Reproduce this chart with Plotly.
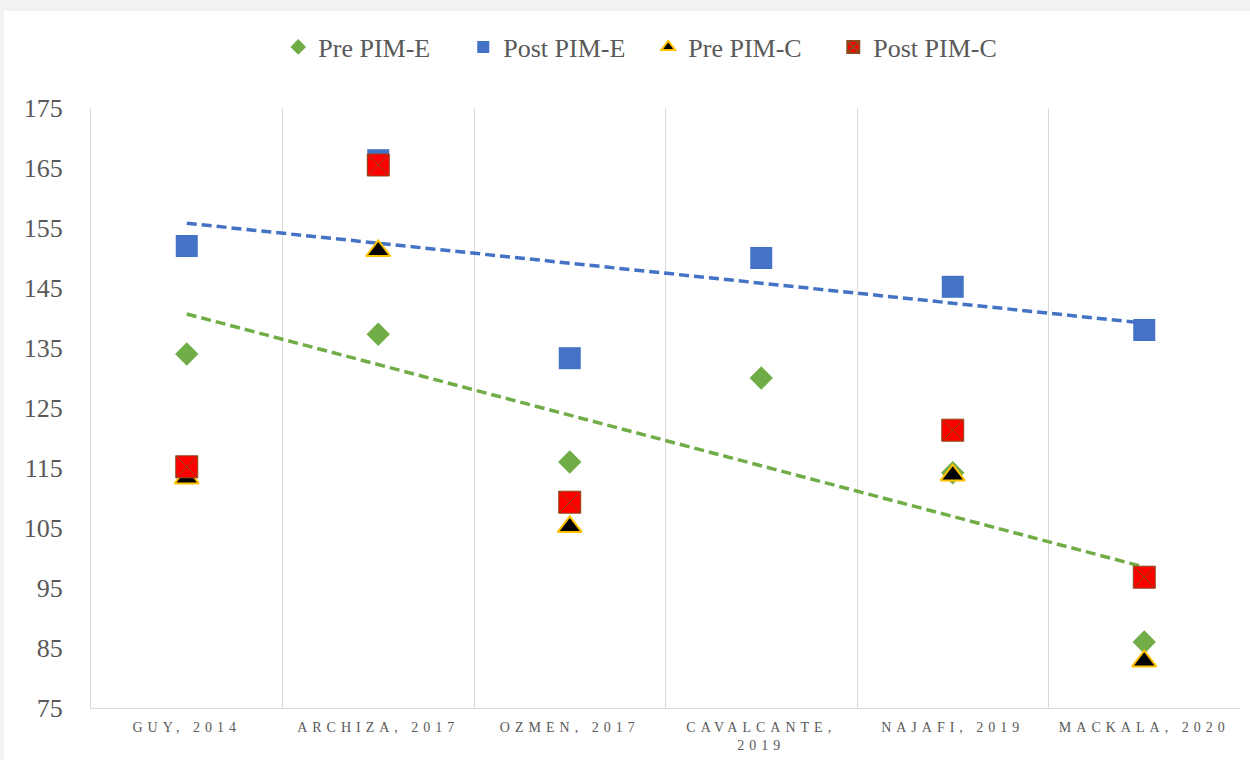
import numpy as np
import plotly.graph_objects as go

categories = ["GUY, 2014", "ARCHIZA, 2017", "OZMEN, 2017", "CAVALCANTE,<br>2019", "NAJAFI, 2019", "MACKALA, 2020"]
pre_pim_e = [134.0, 137.3, 116.0, 130.0, 114.2, 86.0]
post_pim_e = [152.0, 166.3, 133.3, 150.0, 145.2, 138.0]
pre_pim_c = [113.3, 151.2, 105.2, None, 113.8, 82.8]
post_pim_c = [115.2, 165.5, 109.3, None, 121.3, 96.8]

GREEN = "#70AD47"
BLUE = "#4472C4"
GOLD = "#FFC000"
RED = "#FF0000"
GREY_TXT = "#595959"
GRID = "#D9D9D9"
FRAME = "#F2F2F2"
FONT = "Liberation Serif, Times New Roman, serif"

W, H = 1250, 760
ML, MR, MT, MB = 91, 10, 108, 52
PW, PH = W - ML - MR, H - MT - MB

def px_x(p):
    return (p - ML) / PW

def px_y(p):
    return (H - MB - p) / PH

idx = np.arange(1, len(categories) + 1)

def trend(vals):
    k, b = np.polyfit(idx, np.array(vals, dtype=float), 1)
    return list(k * idx + b)

fig = go.Figure()

fig.add_trace(go.Scatter(x=categories, y=trend(post_pim_e), mode="lines",
                         line=dict(color=BLUE, width=3.5, dash="10px,5px"),
                         showlegend=False, hoverinfo="skip"))
fig.add_trace(go.Scatter(x=categories, y=trend(pre_pim_e), mode="lines",
                         line=dict(color=GREEN, width=3.5, dash="10px,5px"),
                         showlegend=False, hoverinfo="skip"))

fig.add_trace(go.Scatter(x=categories, y=pre_pim_e, mode="markers", name="Pre PIM-E",
                         marker=dict(symbol="diamond", size=18, color=GREEN,
                                     line=dict(width=0))))
fig.add_trace(go.Scatter(x=categories, y=post_pim_e, mode="markers", name="Post PIM-E",
                         marker=dict(symbol="square", size=22, color=BLUE,
                                     line=dict(width=0))))
fig.add_trace(go.Scatter(x=categories, y=pre_pim_c, mode="markers", name="Pre PIM-C",
                         marker=dict(symbol="triangle-up", size=21, color="black",
                                     line=dict(width=2, color=GOLD))))
fig.add_trace(go.Scatter(x=categories, y=post_pim_c, mode="markers", name="Post PIM-C",
                         marker=dict(symbol="square-x", size=22, color=RED,
                                     line=dict(width=1, color="#8B4A1E"))))

fig.update_layout(
    width=W, height=H,
    margin=dict(l=ML, r=MR, t=MT, b=MB, autoexpand=False),
    paper_bgcolor="white", plot_bgcolor="white",
    font=dict(family=FONT, color=GREY_TXT),
    legend=dict(orientation="h", x=0.485, xanchor="center", y=px_y(47), yanchor="middle",
                font=dict(family=FONT, size=26, color=GREY_TXT),
                itemsizing="constant", traceorder="normal",
                entrywidth=140, entrywidthmode="pixels"),
    showlegend=True,
    shapes=[
        dict(type="rect", xref="paper", yref="paper", layer="below",
             x0=px_x(0), x1=px_x(W), y0=px_y(11), y1=px_y(0),
             fillcolor=FRAME, line=dict(width=0)),
        dict(type="rect", xref="paper", yref="paper", layer="below",
             x0=px_x(0), x1=px_x(4), y0=px_y(H), y1=px_y(0),
             fillcolor=FRAME, line=dict(width=0)),
    ],
)
fig.update_xaxes(
    type="category", tickson="boundaries", showgrid=True, gridcolor=GRID, gridwidth=1,
    showline=True, linecolor=GRID, linewidth=1, ticks="", tickangle=0,
    ticklabelstandoff=6,
    tickfont=dict(family=FONT, size=14, color=GREY_TXT),
    range=[-0.5, 5.5], automargin=False,
)
fig.update_yaxes(
    range=[75, 175], tick0=75, dtick=10, showgrid=False, zeroline=False,
    showline=True, linecolor=GRID, linewidth=1, ticks="",
    ticklabelstandoff=22, automargin=False,
    tickfont=dict(family=FONT, size=26, color=GREY_TXT),
)

post = ("var s=document.createElement('style');"
        "s.innerHTML='body{margin:0;} .xtick text{letter-spacing:5px;}';"
        "document.head.appendChild(s);")
fig.write_html("out.html", post_script=post, config={"displayModeBar": False})
